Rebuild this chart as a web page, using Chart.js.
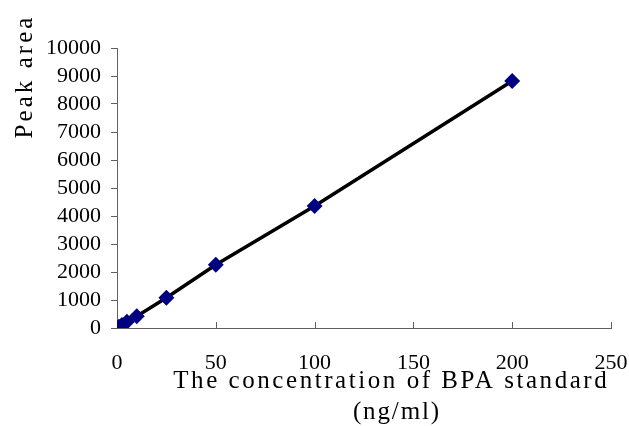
<!DOCTYPE html>
<html>
<head>
<meta charset="utf-8">
<script src="https://cdn.jsdelivr.net/npm/chart.js@4"></script>
<style>
  html, body { margin: 0; padding: 0; background: #fff; }
  #wrap { width: 629px; height: 426px; }
</style>
</head>
<body>
<div id="wrap"><canvas id="grafico" width="629" height="426"></canvas></div>
<script>
// concentracion (ng/ml) y area de pico
var concentracion = [1, 2.5, 5, 10, 25, 50, 100, 200];
var areaPico = [45, 110, 220, 420, 1080, 2260, 4360, 8820];
var ticksX = [0, 50, 100, 150, 200, 250];
var ticksY = [0, 1000, 2000, 3000, 4000, 5000, 6000, 7000, 8000, 9000, 10000];
var tituloX = ['The concentration of BPA standard', '(ng/ml)'];
var tituloY = 'Peak area';

var fuente = '"Liberation Serif", "DejaVu Serif", serif';
var colorEje = '#606060';

var puntos = concentracion.map(function (c, i) { return { x: c, y: areaPico[i] }; });

// texto estirado al ancho que ocupa en la imagen original
function textoAncho(ctx, txt, cx, cy, ancho) {
    ctx.letterSpacing = '0px';
    var w = ctx.measureText(txt).width;
    var esp = (ancho - w) / txt.length;
    ctx.letterSpacing = esp + 'px';
    ctx.fillText(txt, cx + esp / 2, cy);
    ctx.letterSpacing = '0px';
}

// titulos y marcas interiores del eje X
var extras = {
    id: 'extras',
    afterDraw: function (chart) {
        var ctx = chart.ctx;
        var sx = chart.scales.x;
        ctx.save();
        ctx.strokeStyle = colorEje;
        ctx.lineWidth = 1;
        ticksX.forEach(function (v) {
            if (v === 0) return;
            var px = Math.round(sx.getPixelForValue(v)) + 0.5;
            ctx.beginPath();
            ctx.moveTo(px, sx.top);
            ctx.lineTo(px, sx.top - 6);
            ctx.stroke();
        });
        ctx.fillStyle = '#000';
        ctx.font = '25px ' + fuente;
        ctx.textAlign = 'center';
        ctx.textBaseline = 'middle';
        textoAncho(ctx, tituloX[0], 390, 381, 436);
        textoAncho(ctx, tituloX[1], 396, 412, 88);
        ctx.translate(25, 78);
        ctx.rotate(-Math.PI / 2);
        textoAncho(ctx, tituloY, 0, 0, 124);
        ctx.restore();
    }
};

var contexto = document.getElementById('grafico').getContext('2d');
var myChart = new Chart(contexto, {
    type: 'scatter',
    data: {
        datasets: [{
            data: puntos,
            showLine: true,
            borderColor: '#000000',
            borderWidth: 3.5,
            backgroundColor: '#000080',
            pointBackgroundColor: '#000080',
            pointBorderColor: '#000080',
            pointStyle: 'rectRot',
            pointRadius: 5.5,
            pointHoverRadius: 5.5,
            tension: 0
        }]
    },
    options: {
        responsive: false,
        animation: false,
        layout: { padding: { left: 0, right: 0, top: 48, bottom: 0 } },
        plugins: {
            legend: { display: false },
            tooltip: { enabled: false }
        },
        scales: {
            x: {
                type: 'linear',
                min: 0,
                max: 250,
                afterBuildTicks: function (s) { s.ticks = ticksX.map(function (v) { return { value: v }; }); },
                afterFit: function (s) { s.height = 98; s.paddingLeft = 0; s.paddingRight = 18; },
                grid: { display: true, drawOnChartArea: false, drawTicks: false, color: colorEje },
                border: { display: true, color: colorEje, width: 1 },
                ticks: { color: '#000', padding: 22, maxRotation: 0, autoSkip: false, font: { family: fuente, size: 22 },
                         callback: function (v) { return String(v); } }
            },
            y: {
                type: 'linear',
                min: 0,
                max: 10000,
                afterBuildTicks: function (s) { s.ticks = ticksY.map(function (v) { return { value: v }; }); },
                afterFit: function (s) { s.width = 117; s.paddingTop = 0; s.paddingBottom = 0; },
                grid: { display: true, drawOnChartArea: false, drawTicks: true, tickLength: 6, color: colorEje },
                border: { display: true, color: colorEje, width: 1 },
                ticks: { color: '#000', padding: 10, autoSkip: false, font: { family: fuente, size: 22 },
                         callback: function (v) { return String(v); } }
            }
        }
    },
    plugins: [extras]
});
</script>
</body>
</html>
